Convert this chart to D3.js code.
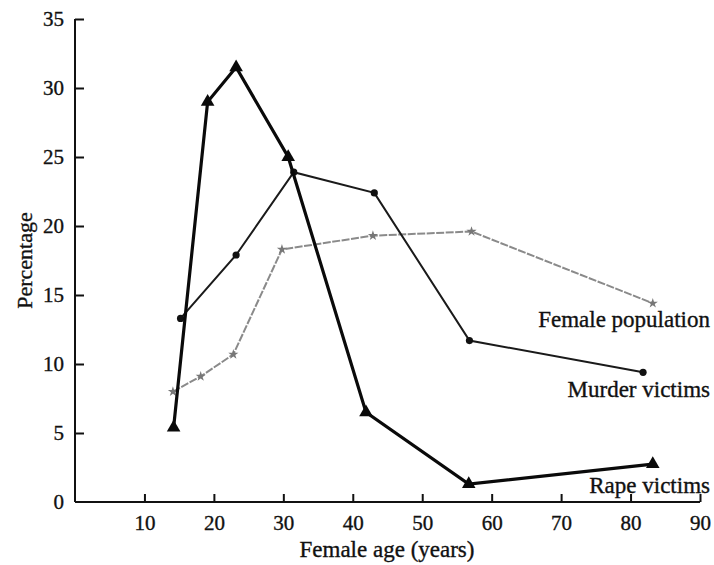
<!DOCTYPE html>
<html>
<head>
<meta charset="utf-8">
<script src="https://cdn.jsdelivr.net/npm/d3@7"></script>
<style>
  body { margin: 0; background: #fff; }
  svg text { font-family: "Liberation Serif", "DejaVu Serif", serif; fill: #111; stroke: #111; stroke-width: 0.35px; }
</style>
</head>
<body>
<svg id="chart"></svg>
<script>
// Data
const popAge = [14.1, 18.1, 22.8, 29.8, 42.9, 57.1, 83.2];
const popPct = [8.0, 9.1, 10.7, 18.3, 19.3, 19.6, 14.4];

const murderAge = [15.2, 23.2, 31.5, 43.1, 56.8, 81.8];
const murderPct = [13.3, 17.9, 23.9, 22.4, 11.7, 9.4];

const rapeAge = [14.2, 19.1, 23.2, 30.7, 41.9, 56.7, 83.2];
const rapePct = [5.4, 29.0, 31.5, 25.0, 6.5, 1.3, 2.75];

const xTicks = [10, 20, 30, 40, 50, 60, 70, 80, 90];
const yTicks = [0, 5, 10, 15, 20, 25, 30, 35];

const width = 714, height = 565;

const svg = d3.select('#chart')
  .attr('width', width)
  .attr('height', height);

// Scales
const x = d3.scaleLinear().domain([0, 90]).range([75, 700]);
const y = d3.scaleLinear().domain([0, 35]).range([502, 19]);

// Axes (ticks point inward)
const xAxis = d3.axisBottom(x).tickValues(xTicks).tickSize(-8).tickPadding(14);
const yAxis = d3.axisLeft(y).tickValues(yTicks).tickSize(-9).tickPadding(11);

const gx = svg.append('g')
  .attr('transform', `translate(0, ${y(0)})`)
  .call(xAxis);
gx.select('.domain').attr('d', `M${x(0)},0H${x(90)}`);

const gy = svg.append('g')
  .attr('transform', `translate(${x(0)}, 0)`)
  .call(yAxis);
gy.select('.domain').attr('d', `M0,${y(0)}V${y(35)}`);

svg.selectAll('.domain, .tick line')
  .attr('stroke', '#111')
  .attr('stroke-width', 2);
svg.selectAll('.tick text')
  .attr('font-size', 21)
  .attr('font-family', '"Liberation Serif", serif')
  .attr('fill', '#111');
gx.selectAll('.tick text').attr('dy', '0.68em');
gy.selectAll('.tick').filter(d => d === 0).select('line').remove();

// Axis titles
svg.append('text')
  .attr('x', 387)
  .attr('y', 557)
  .attr('text-anchor', 'middle')
  .attr('font-size', 23)
  .text('Female age (years)');

svg.append('text')
  .attr('transform', `translate(32, ${y(17.5)}) rotate(-90)`)
  .attr('text-anchor', 'middle')
  .attr('font-size', 22)
  .text('Percentage');

const line = d3.line().x(d => x(d[0])).y(d => y(d[1]));

// Female population (grey, thin)
const popData = d3.zip(popAge, popPct);
svg.append('path')
  .datum(popData)
  .attr('d', line)
  .attr('fill', 'none')
  .attr('stroke', '#8a8a8a')
  .attr('stroke-width', 2)
  .attr('stroke-dasharray', '8,1.5');
svg.selectAll('.pop-pt')
  .data(popData)
  .enter()
  .append('path')
  .attr('class', 'pop-pt')
  .attr('d', d3.symbol(d3.symbolStar, 32))
  .attr('transform', d => `translate(${x(d[0])}, ${y(d[1])})`)
  .attr('fill', '#777');

// Murder victims (medium, dots)
const murderData = d3.zip(murderAge, murderPct);
svg.append('path')
  .datum(murderData)
  .attr('d', line)
  .attr('fill', 'none')
  .attr('stroke', '#1a1a1a')
  .attr('stroke-width', 2);
svg.selectAll('.murder-pt')
  .data(murderData)
  .enter()
  .append('circle')
  .attr('class', 'murder-pt')
  .attr('cx', d => x(d[0]))
  .attr('cy', d => y(d[1]))
  .attr('r', 3.6)
  .attr('fill', '#111');

// Rape victims (thick, triangles)
const rapeData = d3.zip(rapeAge, rapePct);
svg.append('path')
  .datum(rapeData)
  .attr('d', line)
  .attr('fill', 'none')
  .attr('stroke', '#0a0a0a')
  .attr('stroke-width', 3.2);
svg.selectAll('.rape-pt')
  .data(rapeData)
  .enter()
  .append('path')
  .attr('class', 'rape-pt')
  .attr('d', d3.symbol(d3.symbolTriangle, 80))
  .attr('transform', d => `translate(${x(d[0])}, ${y(d[1])})`)
  .attr('fill', '#0a0a0a');

// Series labels
const labels = [
  { text: 'Female population', y: 327 },
  { text: 'Murder victims', y: 397 },
  { text: 'Rape victims', y: 493 }
];
svg.selectAll('.series-label')
  .data(labels)
  .enter()
  .append('text')
  .attr('class', 'series-label')
  .attr('x', 710)
  .attr('y', d => d.y)
  .attr('text-anchor', 'end')
  .attr('font-size', 23)
  .text(d => d.text);
</script>
</body>
</html>
